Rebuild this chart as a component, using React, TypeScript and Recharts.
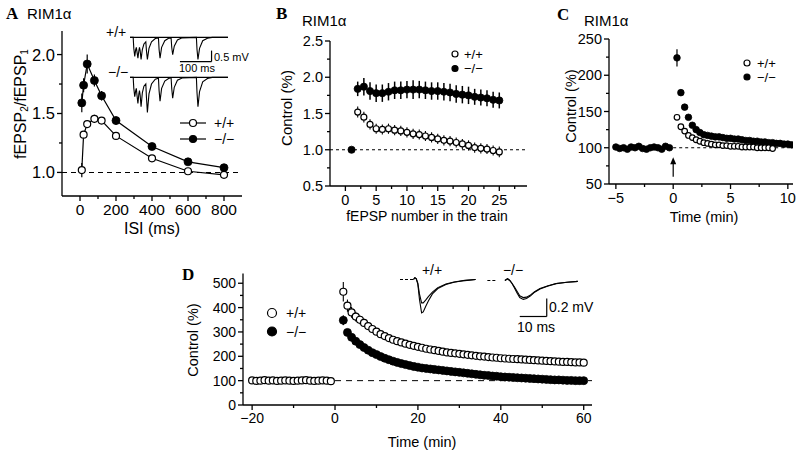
import React from 'react';
import {
  ScatterChart, Scatter, XAxis, YAxis, ErrorBar, ReferenceLine, ReferenceDot,
  LineChart, Line,
} from 'recharts';

const SANS = '"Liberation Sans", Arial, Helvetica, sans-serif';
const SERIF = '"Liberation Serif", "Times New Roman", serif';
const LW = 1.3;

// ---------------- Panel A: paired-pulse ratio ----------------
const isiMs = [10, 20, 40, 80, 120, 200, 400, 600, 800];
const ppfWT = [1.02, 1.32, 1.41, 1.455, 1.44, 1.31, 1.12, 1.01, 0.98];
const ppfWTErr = [0.06, 0.03, 0.03, 0.035, 0.03, 0.02, 0.015, 0.012, 0.012];
const ppfKO = [1.59, 1.74, 1.92, 1.78, 1.65, 1.44, 1.22, 1.09, 1.04];
const ppfKOErr = [0.08, 0.06, 0.08, 0.05, 0.04, 0.035, 0.02, 0.015, 0.015];
const aXTicks = [0, 100, 200, 300, 400, 500, 600, 700, 800];
const aXMajor = [0, 200, 400, 600, 800];
const aYTicks = [1.0, 1.25, 1.5, 1.75, 2.0];
const aYMajor = [1.0, 1.5, 2.0];

// inset traces in A (ms, mV)
const trATime = [-10, 0, 2, 5, 8, 10, 12, 15, 18, 20, 22, 25, 29, 34, 40, 42, 45, 50, 58, 70, 80, 82, 85, 90, 100, 112, 120, 122, 125, 130, 140, 155, 200, 202, 205, 210, 220, 235, 250, 300];
const trAWT = [0, 0, -0.5, -0.86, -0.55, -0.45, -0.65, -0.94, -0.6, -0.45, -0.6, -1.0, -0.55, -0.3, -0.2, -0.6, -1.0, -0.5, -0.2, -0.05, -0.03, -0.55, -0.94, -0.45, -0.15, -0.04, -0.02, -0.45, -0.79, -0.4, -0.12, -0.02, 0, -0.55, -1.0, -0.5, -0.15, -0.04, 0, 0];
const trAKO = [0, 0, -0.5, -0.88, -0.6, -0.5, -0.8, -1.18, -0.75, -0.6, -0.8, -1.33, -0.7, -0.4, -0.3, -0.9, -1.59, -0.75, -0.3, -0.08, -0.04, -0.6, -1.08, -0.5, -0.17, -0.05, -0.02, -0.5, -0.95, -0.45, -0.13, -0.03, 0, -0.7, -1.33, -0.65, -0.2, -0.05, 0, 0];
const trABaseTime = [-10, 300];
const trABase = [0, 0];

// ---------------- Panel B: train ----------------
const trainN = [1, 2, 3, 4, 5, 6, 7, 8, 9, 10, 11, 12, 13, 14, 15, 16, 17, 18, 19, 20, 21, 22, 23, 24, 25];
const trainKO = [1.0, 1.84, 1.87, 1.81, 1.78, 1.78, 1.8, 1.82, 1.82, 1.83, 1.83, 1.83, 1.82, 1.81, 1.81, 1.8, 1.79, 1.77, 1.76, 1.75, 1.73, 1.72, 1.71, 1.69, 1.68];
const trainKOErr = [0, 0.1, 0.12, 0.12, 0.12, 0.12, 0.12, 0.12, 0.12, 0.12, 0.13, 0.12, 0.12, 0.12, 0.12, 0.12, 0.12, 0.12, 0.12, 0.12, 0.11, 0.11, 0.11, 0.11, 0.11];
const trainWT = [1.0, 1.52, 1.45, 1.35, 1.29, 1.28, 1.29, 1.27, 1.26, 1.24, 1.22, 1.21, 1.19, 1.17, 1.15, 1.13, 1.12, 1.1, 1.08, 1.06, 1.03, 1.02, 1.01, 0.99, 0.97];
const trainWTErr = [0, 0.075, 0.075, 0.07, 0.07, 0.07, 0.07, 0.07, 0.07, 0.07, 0.07, 0.07, 0.07, 0.07, 0.07, 0.07, 0.07, 0.07, 0.07, 0.07, 0.07, 0.07, 0.07, 0.07, 0.075];
const bXTicks = [0, 2.5, 5, 7.5, 10, 12.5, 15, 17.5, 20, 22.5, 25, 27.5];
const bXMajor = [0, 5, 10, 15, 20, 25];
const bYTicks = [0.5, 0.75, 1.0, 1.25, 1.5, 1.75, 2.0, 2.25, 2.5];
const bYMajor = [0.5, 1.0, 1.5, 2.0, 2.5];

// ---------------- Panel C: PTP ----------------
const cBaseTime = [-5, -4.67, -4.33, -4, -3.67, -3.33, -3, -2.67, -2.33, -2, -1.67, -1.33, -1, -0.67, -0.33];
const cKOBase = [101, 99, 100, 98, 101, 100, 102, 99, 98, 100, 101, 100, 98, 102, 100];
const cPostTime = [0.33, 0.67, 1, 1.33, 1.67, 2, 2.33, 2.67, 3, 3.33, 3.67, 4, 4.33, 4.67, 5, 5.33, 5.67, 6, 6.33, 6.67, 7, 7.33, 7.67, 8, 8.33, 8.67, 9, 9.33, 9.67, 10, 10.33];
const cKO = [224, 176, 156, 142, 131, 125, 121, 118, 117, 116, 115, 115, 114, 113, 113, 112, 112, 111, 110, 110, 109, 109, 108, 108, 107, 107, 106, 106, 105, 105, 104];
const cKOErr = [12, 4, 3, 3, 2, 2, 2, 2, 2, 2, 2, 2, 2, 2, 2, 2, 2, 2, 2, 2, 2, 2, 2, 2, 2, 2, 2, 2, 2, 2, 2];
const cWT = [142, 129, 123, 117, 114, 111, 109, 107, 106, 105, 104, 104, 103, 103, 102, 102, 102, 101, 101, 101, 101, 100, 100, 100, 100, 99];
const cXTicks = [-5, -2.5, 0, 2.5, 5, 7.5, 10];
const cXMajor = [-5, 0, 5, 10];
const cYTicks = [50, 75, 100, 125, 150, 175, 200, 225, 250];
const cYMajor = [50, 100, 150, 200, 250];

// ---------------- Panel D: LTP ----------------
const dBaseTime = [-20, -19, -18, -17, -16, -15, -14, -13, -12, -11, -10, -9, -8, -7, -6, -5, -4, -3, -2, -1];
const dWTBase = [101, 99, 100, 102, 100, 101, 99, 100, 101, 100, 99, 100, 101, 102, 100, 99, 100, 101, 100, 98];
const dWTBaseErr = [6, 6, 6, 6, 6, 6, 6, 6, 6, 6, 6, 6, 6, 6, 6, 6, 6, 6, 6, 6];
const dPostTime = [2, 3, 4, 5, 6, 7, 8, 9, 10, 11, 12, 13, 14, 15, 16, 17, 18, 19, 20, 21, 22, 23, 24, 25, 26, 27, 28, 29, 30, 31, 32, 33, 34, 35, 36, 37, 38, 39, 40, 41, 42, 43, 44, 45, 46, 47, 48, 49, 50, 51, 52, 53, 54, 55, 56, 57, 58, 59, 60];
const dWT = [465, 408, 380, 363, 350, 337, 324, 312, 301, 291, 283, 275, 268, 262, 257, 252, 247, 243, 239, 235, 231, 228, 225, 222, 219, 216, 214, 212, 210, 208, 206, 204, 202, 200, 199, 197, 195, 194, 192, 191, 190, 189, 188, 187, 186, 185, 184, 183, 182, 181, 180, 179, 178, 177, 177, 176, 175, 175, 174];
const dWTErr = [40, 25, 22, 20, 18, 17, 16, 15, 14, 13, 12, 12, 11, 11, 10, 10, 10, 10, 9, 9, 9, 9, 9, 9, 8, 8, 8, 8, 8, 8, 8, 8, 8, 8, 8, 8, 8, 8, 8, 8, 8, 8, 8, 8, 8, 8, 8, 8, 8, 8, 8, 8, 8, 8, 8, 8, 8, 8, 8];
const dKO = [348, 298, 278, 262, 248, 236, 225, 215, 207, 199, 192, 186, 180, 175, 170, 166, 162, 158, 155, 152, 150, 148, 146, 144, 142, 140, 138, 136, 134, 132, 130, 128, 126, 124, 122, 121, 119, 118, 116, 115, 114, 113, 112, 111, 110, 109, 108, 107, 106, 105, 104, 103, 103, 102, 101, 101, 100, 100, 100];
const dKOErr = [20, 14, 12, 12, 12, 12, 12, 12, 12, 12, 12, 12, 12, 12, 12, 12, 12, 12, 12, 12, 12, 12, 12, 12, 12, 12, 12, 12, 12, 12, 12, 12, 12, 12, 12, 12, 12, 12, 12, 12, 12, 12, 12, 12, 12, 12, 12, 12, 12, 12, 12, 12, 12, 12, 12, 12, 12, 12, 12];
const dXTicks = [-20, -10, 0, 10, 20, 30, 40, 50, 60];
const dXMajor = [-20, 0, 20, 40, 60];
const dYTicks = [0, 50, 100, 150, 200, 250, 300, 350, 400, 450, 500];
const dYMajor = [0, 100, 200, 300, 400, 500];

// inset traces in D (ms, mV)
const trDWTTime = [5, 5.5, 6, 6.6, 7.2, 8, 8.6, 9.5, 10.5, 12, 14, 17, 20, 24, 28];
const trDWTPost = [0, 0.02, 0.01, -0.05, -0.22, -0.37, -0.36, -0.3, -0.24, -0.16, -0.1, -0.055, -0.03, -0.012, 0];
const trDWTPre = [0, 0.02, 0.01, -0.04, -0.16, -0.26, -0.26, -0.23, -0.19, -0.14, -0.09, -0.05, -0.028, -0.01, 0];
const trDKOTime = [7, 8, 8.8, 9.6, 10.5, 11.5, 12.5, 13.8, 15, 16.5, 18, 20, 23, 26, 30, 34];
const trDKOPost = [0, 0.02, 0, -0.03, -0.08, -0.14, -0.19, -0.21, -0.2, -0.17, -0.13, -0.095, -0.06, -0.035, -0.02, -0.01];
const trDKOPre = [0, 0.02, 0, -0.03, -0.07, -0.12, -0.17, -0.19, -0.185, -0.16, -0.125, -0.09, -0.058, -0.034, -0.02, -0.01];
const trDWTDashTime = [0, 5];
const trDKODashTime = [0.5, 4];
const trDDash = [0, 0];

// ---------------- helpers ----------------
const zip = (xs: number[], ys: number[], es?: number[]) =>
  xs.map((x, i) => ({ x, y: ys[i], e: es ? es[i] : 0 }));
const fmt = (d: number) => (v: number) => (v < 0 ? '\u2212' : '') + Math.abs(v).toFixed(d);

function makeTick(orient: 'bottom' | 'left', majors: number[], f: (v: number) => string, fs: number, majorLen = 5, minorLen = 3, gap = 2) {
  return (props: any) => {
    const { x, y, payload } = props;
    const v = payload.value;
    const isMajor = majors.some((m) => Math.abs(m - v) < 1e-9);
    const len = isMajor ? majorLen : minorLen;
    if (orient === 'bottom') {
      return (
        <g>
          <line x1={x} x2={x} y1={y} y2={y + len} stroke="#000" strokeWidth={LW} />
          {isMajor && (
            <text x={x} y={y + majorLen + gap + fs * 0.8} textAnchor="middle" fontSize={fs} fontFamily={SANS} fill="#000">{f(v)}</text>
          )}
        </g>
      );
    }
    return (
      <g>
        <line x1={x} x2={x - len} y1={y} y2={y} stroke="#000" strokeWidth={LW} />
        {isMajor && (
          <text x={x - majorLen - gap} y={y + fs * 0.36} textAnchor="end" fontSize={fs} fontFamily={SANS} fill="#000">{f(v)}</text>
        )}
      </g>
    );
  };
}

const openDot = (r: number) => (p: any) => (
  <circle cx={p.cx} cy={p.cy} r={r} fill="#fff" stroke="#000" strokeWidth={1.2} />
);
const fillDot = (r: number) => (p: any) => (
  <circle cx={p.cx} cy={p.cy} r={r} fill="#000" stroke="#000" strokeWidth={0.8} />
);

const axisLine = { stroke: '#000', strokeWidth: LW };

// ---------------- Panels ----------------
function PanelA() {
  const wt = zip(isiMs, ppfWT, ppfWTErr);
  const ko = zip(isiMs, ppfKO, ppfKOErr);
  return (
    <div style={{ position: 'absolute', left: 0, top: 0 }}>
      <ScatterChart width={260} height={240} margin={{ top: 31, right: 18, bottom: 0, left: 0 }}>
        <XAxis type="number" dataKey="x" domain={[-100, 900]} ticks={aXTicks} interval={0} allowDataOverflow
          tick={makeTick('bottom', aXMajor, fmt(0), 15.5)} tickLine={false} tickSize={0} tickMargin={0} axisLine={axisLine} height={44} />
        <YAxis type="number" dataKey="y" domain={[0.8, 2.2]} ticks={aYTicks} interval={0} allowDataOverflow
          tick={makeTick('left', aYMajor, fmt(1), 16.5)} tickLine={false} tickSize={0} tickMargin={0} axisLine={axisLine} width={62} />
        <ReferenceLine y={1} stroke="#000" strokeWidth={1.1} strokeDasharray="5 4" />
        <Scatter data={wt} line={{ stroke: '#000', strokeWidth: 1.2 }} lineType="joint" shape={openDot(3.5)} isAnimationActive={false}>
          <ErrorBar dataKey="e" direction="y" width={0} stroke="#000" strokeWidth={1.2} />
        </Scatter>
        <Scatter data={ko} line={{ stroke: '#000', strokeWidth: 1.2 }} lineType="joint" shape={fillDot(4)} isAnimationActive={false}>
          <ErrorBar dataKey="e" direction="y" width={0} stroke="#000" strokeWidth={1.2} />
        </Scatter>
      </ScatterChart>
    </div>
  );
}

function TraceChart(props: {
  left: number; top: number; width: number; height: number;
  xDomain: [number, number]; yDomain: [number, number];
  lines: { data: { x: number; y: number }[]; dash?: string }[];
  bars?: { x1: number; y1: number; x2: number; y2: number }[];
}) {
  const { left, top, width, height, xDomain, yDomain, lines, bars = [] } = props;
  return (
    <div style={{ position: 'absolute', left, top }}>
      <LineChart width={width} height={height} margin={{ top: 0, right: 0, bottom: 0, left: 0 }} style={{ overflow: 'visible' }}>
        <XAxis type="number" dataKey="x" domain={xDomain} hide allowDataOverflow />
        <YAxis type="number" dataKey="y" domain={yDomain} hide allowDataOverflow />
        {lines.map((l, i) => (
          <Line key={i} data={l.data} dataKey="y" type="linear" stroke="#000" strokeWidth={1.1}
            strokeDasharray={l.dash} dot={false} activeDot={false} isAnimationActive={false} />
        ))}
        {bars.map((b, i) => (
          <ReferenceLine key={'b' + i} segment={[{ x: b.x1, y: b.y1 }, { x: b.x2, y: b.y2 }]} stroke="#000" strokeWidth={1.2} ifOverflow="visible" />
        ))}
      </LineChart>
    </div>
  );
}

function PanelB() {
  const wt = zip(trainN.slice(1), trainWT.slice(1), trainWTErr.slice(1));
  const ko = zip(trainN, trainKO, trainKOErr);
  return (
    <div style={{ position: 'absolute', left: 260, top: 0 }}>
      <ScatterChart width={280} height={240} margin={{ top: 41, right: 13, bottom: 0, left: 0 }}>
        <XAxis type="number" dataKey="x" domain={[-2.5, 29.5]} ticks={bXTicks} interval={0} allowDataOverflow
          tick={makeTick('bottom', bXMajor, fmt(0), 14.5)} tickLine={false} tickSize={0} tickMargin={0} axisLine={axisLine} height={54} />
        <YAxis type="number" dataKey="y" domain={[0.5, 2.5]} ticks={bYTicks} interval={0} allowDataOverflow
          tick={makeTick('left', bYMajor, fmt(1), 14.5)} tickLine={false} tickSize={0} tickMargin={0} axisLine={axisLine} width={70} />
        <ReferenceLine y={1} stroke="#000" strokeWidth={1.1} strokeDasharray="3 3" />
        <Scatter data={wt} shape={openDot(3)} isAnimationActive={false}>
          <ErrorBar dataKey="e" direction="y" width={0} stroke="#000" strokeWidth={1.1} />
        </Scatter>
        <Scatter data={ko} shape={fillDot(3.6)} isAnimationActive={false}>
          <ErrorBar dataKey="e" direction="y" width={0} stroke="#000" strokeWidth={1.5} />
        </Scatter>
      </ScatterChart>
    </div>
  );
}

function PanelC() {
  const koBase = zip(cBaseTime, cKOBase);
  const ko = zip(cPostTime, cKO, cKOErr);
  const wt = zip(cPostTime.slice(0, cWT.length), cWT);
  const arrow = (p: any) => (
    <polygon points={`${p.cx - 3},${p.cy + 7} ${p.cx + 3},${p.cy + 7} ${p.cx},${p.cy}`} fill="#000" />
  );
  return (
    <div style={{ position: 'absolute', left: 560, top: 0 }}>
      <ScatterChart width={240} height={240} margin={{ top: 39, right: 7, bottom: 0, left: 0 }}>
        <XAxis type="number" dataKey="x" domain={[-5.6, 10.45]} ticks={cXTicks} interval={0} allowDataOverflow
          tick={makeTick('bottom', cXMajor, fmt(0), 14.5)} tickLine={false} tickSize={0} tickMargin={0} axisLine={axisLine} height={56} />
        <YAxis type="number" dataKey="y" domain={[50, 250]} ticks={cYTicks} interval={0} allowDataOverflow
          tick={makeTick('left', cYMajor, fmt(0), 14.5)} tickLine={false} tickSize={0} tickMargin={0} axisLine={axisLine} width={49} />
        <ReferenceLine segment={[{ x: 0, y: 100 }, { x: 10.45, y: 100 }]} stroke="#000" strokeWidth={1} strokeDasharray="3 3" />
        <ReferenceLine segment={[{ x: 0, y: 60 }, { x: 0, y: 80 }]} stroke="#000" strokeWidth={1.2} />
        <ReferenceDot x={0} y={87} shape={arrow} />
        <Scatter data={koBase} shape={fillDot(3.3)} isAnimationActive={false} />
        <Scatter data={ko} shape={fillDot(3.3)} isAnimationActive={false}>
          <ErrorBar dataKey="e" direction="y" width={0} stroke="#000" strokeWidth={1.2} />
        </Scatter>
        <Scatter data={wt} shape={openDot(2.8)} isAnimationActive={false} />
      </ScatterChart>
    </div>
  );
}

function PanelD() {
  const wtBase = zip(dBaseTime, dWTBase, dWTBaseErr);
  const wt = zip(dPostTime, dWT, dWTErr);
  const ko = zip(dPostTime, dKO, dKOErr);
  return (
    <div style={{ position: 'absolute', left: 180, top: 240 }}>
      <ScatterChart width={420} height={217} margin={{ top: 33.5, right: 8, bottom: 0, left: 0 }}>
        <XAxis type="number" dataKey="x" domain={[-22.2, 62]} ticks={dXTicks} interval={0} allowDataOverflow
          tick={makeTick('bottom', dXMajor, fmt(0), 14)} tickLine={false} tickSize={0} tickMargin={0} axisLine={axisLine} height={52} />
        <YAxis type="number" dataKey="y" domain={[0, 540]} ticks={dYTicks} interval={0} allowDataOverflow
          tick={makeTick('left', dYMajor, fmt(0), 14)} tickLine={false} tickSize={0} tickMargin={0} axisLine={axisLine} width={63} />
        <ReferenceLine segment={[{ x: 0, y: 100 }, { x: 62, y: 100 }]} stroke="#000" strokeWidth={1} strokeDasharray="6 5" />
        <Scatter data={ko} shape={fillDot(4)} isAnimationActive={false}>
          <ErrorBar dataKey="e" direction="y" width={0} stroke="#000" strokeWidth={1.4} />
        </Scatter>
        <Scatter data={wtBase} shape={openDot(3.5)} isAnimationActive={false}>
          <ErrorBar dataKey="e" direction="y" width={0} stroke="#000" strokeWidth={1.1} />
        </Scatter>
        <Scatter data={wt} shape={openDot(3.5)} isAnimationActive={false}>
          <ErrorBar dataKey="e" direction="y" width={0} stroke="#000" strokeWidth={1.1} />
        </Scatter>
      </ScatterChart>
    </div>
  );
}

function Legend(props: { x: number; y: number; dy: number; r: number; fs: number; withLine?: boolean; textX: number }) {
  const { x, y, dy, r, fs, withLine, textX } = props;
  const items = [
    { label: '+/+', filled: false },
    { label: '\u2212/\u2212', filled: true },
  ];
  return (
    <g>
      {items.map((it, i) => {
        const cy = y + i * dy;
        return (
          <g key={i}>
            {withLine && <line x1={x - 13} x2={x + 13} y1={cy} y2={cy} stroke="#000" strokeWidth={1.2} />}
            <circle cx={x} cy={cy} r={r} fill={it.filled ? '#000' : '#fff'} stroke="#000" strokeWidth={1.2} />
            <text x={textX} y={cy + fs * 0.36} fontSize={fs} fontFamily={SANS} fill="#000">{it.label}</text>
          </g>
        );
      })}
    </g>
  );
}

function Overlay() {
  const t = (x: number, y: number, s: string, fs: number, extra: any = {}) => (
    <text x={x} y={y} fontSize={fs} fontFamily={SANS} fill="#000" {...extra}>{s}</text>
  );
  const letter = (x: number, y: number, s: string) => (
    <text x={x} y={y} fontSize={17} fontWeight="bold" fontFamily={SERIF} fill="#000">{s}</text>
  );
  const vt = (cx: number, cy: number, content: React.ReactNode, fs: number) => (
    <text x={cx} y={cy} transform={`rotate(-90 ${cx} ${cy})`} textAnchor="middle" dominantBaseline="central" fontSize={fs} fontFamily={SANS} fill="#000">{content}</text>
  );
  return (
    <svg width={800} height={457} style={{ position: 'absolute', left: 0, top: 0, pointerEvents: 'none' }}>
      {letter(6, 19, 'A')}
      {t(27, 19, 'RIM1\u03b1', 15)}
      {letter(276, 19, 'B')}
      {t(302, 26, 'RIM1\u03b1', 15)}
      {letter(557, 20, 'C')}
      {t(584, 26, 'RIM1\u03b1', 15)}
      {letter(182, 280, 'D')}
      {/* axis titles */}
      {t(152, 234, 'ISI (ms)', 16, { textAnchor: 'middle' })}
      {vt(20, 104, (<>fEPSP<tspan dy={4} fontSize={10}>2</tspan><tspan dy={-4}>/fEPSP</tspan><tspan dy={4} fontSize={10}>1</tspan></>), 16)}
      {t(427, 221, 'fEPSP number in the train', 14, { textAnchor: 'middle' })}
      {vt(286, 108, 'Control (%)', 15)}
      {t(704, 222, 'Time (min)', 14.5, { textAnchor: 'middle' })}
      {vt(571, 106, 'Control (%)', 14.5)}
      {t(422, 447, 'Time (min)', 14.5, { textAnchor: 'middle' })}
      {vt(193, 340, 'Control (%)', 14.5)}
      {/* A trace annotations */}
      {t(106, 37, '+/+', 14)}
      {t(108, 77, '\u2212/\u2212', 14)}
      {t(214, 61, '0.5 mV', 11)}
      {t(197, 72, '100 ms', 11, { textAnchor: 'middle' })}
      {/* D trace annotations */}
      {t(432, 275, '+/+', 14, { textAnchor: 'middle' })}
      {t(513, 275, '\u2212/\u2212', 14, { textAnchor: 'middle' })}
      {t(549, 312, '0.2 mV', 14)}
      {t(536, 332, '10 ms', 14, { textAnchor: 'middle' })}
      {/* legends */}
      <Legend x={193} y={123} dy={16} r={3.5} fs={14} withLine textX={214} />
      <Legend x={455} y={54} dy={14.5} r={3} fs={13} textX={464} />
      <Legend x={747} y={63} dy={14} r={3} fs={13} textX={757} />
      <Legend x={272} y={313} dy={18.5} r={4.5} fs={14} textX={286} />
    </svg>
  );
}

export default function App() {
  const pts = (ts: number[], vs: number[]) => ts.map((x, i) => ({ x, y: vs[i] }));
  return (
    <div style={{ position: 'absolute', left: 0, top: 0, width: 800, height: 457, background: '#fff', overflow: 'hidden' }}>
      <PanelA />
      <PanelB />
      <PanelC />
      <PanelD />
      <TraceChart left={130} top={33.3} width={98} height={37.4} xDomain={[-10, 300]} yDomain={[-1.5, 0.2]}
        lines={[{ data: pts(trABaseTime, trABase) }, { data: pts(trATime, trAWT) }]}
        bars={[{ x1: 148, y1: -1.1, x2: 248, y2: -1.1 }, { x1: 248, y1: -0.6, x2: 248, y2: -1.1 }]} />
      <TraceChart left={130} top={72.9} width={98} height={46.2} xDomain={[-10, 300]} yDomain={[-1.9, 0.2]}
        lines={[{ data: pts(trABaseTime, trABase) }, { data: pts(trATime, trAKO) }]} />
      <TraceChart left={400} top={275} width={81} height={45} xDomain={[0, 30]} yDomain={[-0.45, 0.05]}
        lines={[{ data: pts(trDWTDashTime, trDDash), dash: '3 2' }, { data: pts(trDWTTime, trDWTPost) }, { data: pts(trDWTTime, trDWTPre) }]} />
      <TraceChart left={486} top={275.5} width={97.2} height={45} xDomain={[0, 36]} yDomain={[-0.45, 0.05]}
        lines={[{ data: pts(trDKODashTime, trDDash), dash: '3 2' }, { data: pts(trDKOTime, trDKOPost) }, { data: pts(trDKOTime, trDKOPre) }]}
        bars={[{ x1: 12.5, y1: -0.4, x2: 22.5, y2: -0.4 }, { x1: 22.5, y1: -0.2, x2: 22.5, y2: -0.4 }]} />
      <Overlay />
    </div>
  );
}
